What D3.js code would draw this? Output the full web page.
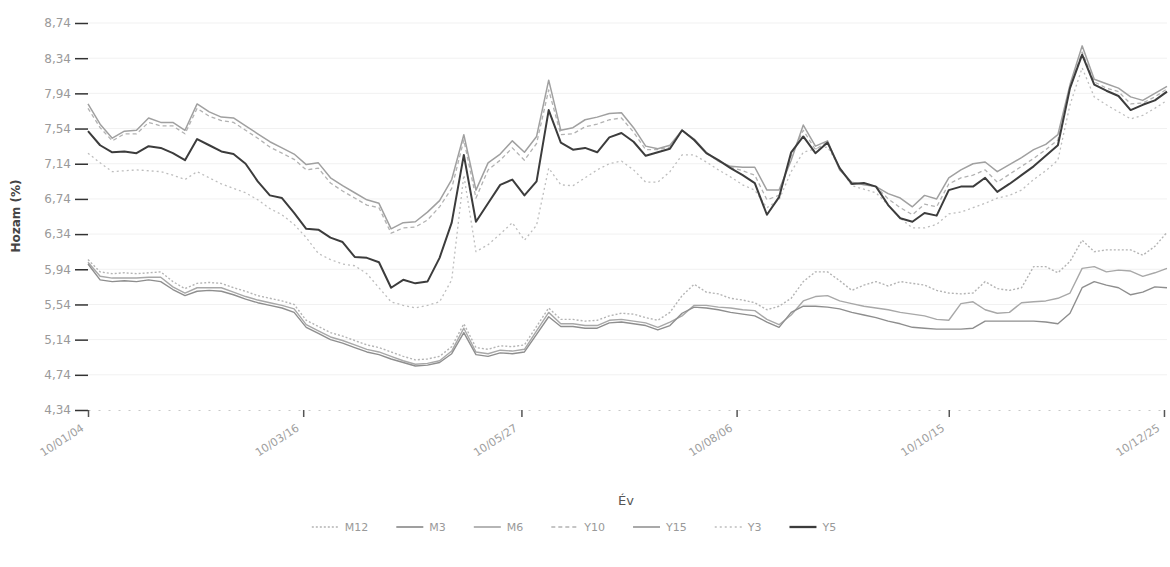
<!DOCTYPE html>
<html><head><meta charset="utf-8">
<script src="https://cdn.jsdelivr.net/npm/d3@7"></script>
<style>
body{margin:0;background:#fff}
text{font-family:"DejaVu Sans",sans-serif}
</style>
</head><body>
<svg id="chart" width="1170" height="567"></svg>
<script>
// ---- data ----
const startDate = "2010-01-04";
const stepDays = 4;   // one observation every 4 days
const M12 = [6.05,5.91,5.89,5.90,5.89,5.90,5.91,5.80,5.72,5.78,5.79,5.78,5.73,5.69,5.64,5.61,5.58,5.54,5.36,5.29,5.22,5.18,5.13,5.08,5.05,5.00,4.95,4.91,4.92,4.95,5.06,5.32,5.05,5.03,5.07,5.06,5.08,5.29,5.50,5.37,5.37,5.35,5.36,5.41,5.44,5.43,5.39,5.36,5.45,5.64,5.77,5.68,5.66,5.61,5.59,5.56,5.48,5.52,5.61,5.80,5.91,5.91,5.81,5.70,5.76,5.80,5.75,5.80,5.78,5.76,5.70,5.67,5.66,5.67,5.80,5.72,5.70,5.73,5.97,5.97,5.90,6.03,6.27,6.14,6.16,6.16,6.16,6.10,6.20,6.36];
const M3 = [6.00,5.82,5.80,5.81,5.80,5.82,5.80,5.71,5.64,5.69,5.70,5.69,5.65,5.60,5.56,5.53,5.50,5.45,5.28,5.21,5.14,5.10,5.05,5.00,4.97,4.92,4.88,4.84,4.85,4.88,4.98,5.22,4.97,4.95,4.99,4.98,5.00,5.20,5.40,5.29,5.29,5.27,5.27,5.33,5.34,5.32,5.30,5.25,5.30,5.44,5.51,5.50,5.48,5.45,5.43,5.41,5.34,5.28,5.45,5.52,5.52,5.51,5.49,5.45,5.42,5.39,5.35,5.32,5.28,5.27,5.26,5.26,5.26,5.27,5.35,5.35,5.35,5.35,5.35,5.34,5.32,5.44,5.73,5.80,5.76,5.73,5.65,5.68,5.74,5.73];
const M6 = [6.02,5.86,5.84,5.84,5.84,5.85,5.85,5.74,5.67,5.73,5.73,5.73,5.68,5.63,5.59,5.56,5.53,5.49,5.31,5.24,5.17,5.13,5.08,5.03,5.00,4.95,4.90,4.86,4.87,4.90,5.01,5.27,5.00,4.98,5.02,5.01,5.03,5.24,5.45,5.32,5.32,5.30,5.30,5.36,5.37,5.35,5.33,5.28,5.34,5.41,5.53,5.53,5.51,5.50,5.48,5.47,5.37,5.31,5.42,5.58,5.63,5.64,5.58,5.55,5.52,5.50,5.48,5.45,5.43,5.41,5.37,5.36,5.55,5.57,5.48,5.44,5.45,5.56,5.57,5.58,5.61,5.67,5.95,5.97,5.91,5.93,5.92,5.86,5.90,5.95];
const Y10 = [7.77,7.55,7.40,7.48,7.48,7.61,7.57,7.57,7.48,7.77,7.68,7.63,7.61,7.52,7.43,7.33,7.26,7.19,7.07,7.09,6.92,6.83,6.75,6.67,6.64,6.35,6.41,6.42,6.50,6.65,6.86,7.41,6.75,7.07,7.18,7.32,7.18,7.37,7.98,7.47,7.48,7.56,7.59,7.64,7.66,7.50,7.30,7.30,7.33,7.52,7.41,7.26,7.17,7.10,7.06,7.01,6.73,6.78,7.23,7.52,7.30,7.39,7.08,6.92,6.91,6.88,6.74,6.64,6.56,6.68,6.65,6.91,6.98,7.01,7.07,6.93,7.02,7.11,7.20,7.30,7.41,8.01,8.41,8.07,8.00,7.96,7.82,7.83,7.90,7.99];
const Y15 = [7.82,7.59,7.43,7.51,7.52,7.66,7.61,7.61,7.52,7.82,7.73,7.67,7.66,7.57,7.48,7.39,7.32,7.25,7.13,7.15,6.98,6.89,6.81,6.73,6.69,6.40,6.47,6.48,6.59,6.72,6.96,7.47,6.84,7.15,7.25,7.40,7.27,7.45,8.09,7.52,7.55,7.64,7.67,7.71,7.72,7.55,7.34,7.31,7.35,7.52,7.42,7.27,7.17,7.11,7.10,7.10,6.84,6.84,7.18,7.58,7.34,7.40,7.07,6.93,6.90,6.88,6.80,6.75,6.65,6.78,6.74,6.98,7.07,7.14,7.16,7.05,7.13,7.21,7.30,7.36,7.47,8.04,8.48,8.10,8.05,8.00,7.90,7.86,7.94,8.02];
const Y3 = [7.26,7.15,7.05,7.06,7.07,7.06,7.05,7.01,6.96,7.05,6.98,6.91,6.86,6.81,6.73,6.63,6.56,6.45,6.30,6.12,6.05,6.00,5.98,5.89,5.73,5.57,5.53,5.50,5.53,5.57,5.82,7.01,6.14,6.22,6.34,6.47,6.27,6.44,7.09,6.90,6.89,6.98,7.07,7.14,7.17,7.07,6.93,6.93,7.05,7.24,7.24,7.16,7.07,6.99,6.90,6.84,6.64,6.73,7.05,7.27,7.31,7.33,7.10,6.89,6.85,6.81,6.67,6.52,6.41,6.41,6.45,6.57,6.59,6.64,6.69,6.75,6.78,6.84,6.96,7.06,7.18,7.81,8.23,7.90,7.81,7.73,7.65,7.69,7.77,7.86];
const Y5 = [7.51,7.35,7.27,7.28,7.26,7.34,7.32,7.26,7.18,7.42,7.35,7.28,7.25,7.14,6.94,6.78,6.75,6.58,6.40,6.39,6.30,6.25,6.08,6.07,6.02,5.73,5.82,5.78,5.80,6.07,6.47,7.24,6.48,6.69,6.90,6.96,6.78,6.94,7.75,7.38,7.30,7.32,7.27,7.44,7.49,7.39,7.23,7.27,7.31,7.52,7.41,7.26,7.18,7.09,7.01,6.92,6.56,6.76,7.27,7.45,7.26,7.38,7.09,6.91,6.92,6.88,6.67,6.52,6.48,6.58,6.55,6.84,6.88,6.88,6.98,6.82,6.91,7.01,7.11,7.23,7.35,8.00,8.38,8.04,7.97,7.91,7.75,7.81,7.86,7.96];
const seriesNames = ["M12","M3","M6","Y10","Y15","Y3","Y5"];
const xTickDates = ["2010-01-04","2010-03-16","2010-05-27","2010-08-06","2010-10-15","2010-12-25"];
const xTickLabels = ["10/01/04","10/03/16","10/05/27","10/08/06","10/10/15","10/12/25"];
const yTicks = [4.34,4.74,5.14,5.54,5.94,6.34,6.74,7.14,7.54,7.94,8.34,8.74];
const yTitle = "Hozam (%)";
const xTitle = "Év";

(function draw() {
const parse = d3.timeParse("%Y-%m-%d");
const t0 = parse(startDate);
const dates = M12.map((_, i) => d3.timeDay.offset(t0, i * stepDays));
const seriesValues = {M12, M3, M6, Y10, Y15, Y3, Y5};

const styles = {
  M12: {color:"#b4b4b4", width:1.4, dash:"2,2"},
  M3:  {color:"#8e8e8e", width:1.4, dash:null},
  M6:  {color:"#a8a8a8", width:1.4, dash:null},
  Y10: {color:"#b2b2b2", width:1.3, dash:"4,3"},
  Y15: {color:"#a0a0a0", width:1.5, dash:null},
  Y3:  {color:"#bdbdbd", width:1.3, dash:"2,3"},
  Y5:  {color:"#3c3c3c", width:2.0, dash:null}
};

const svg = d3.select("#chart");
const mLeft = 88, mRight = 1167, mTop = 23, mBottom = 410;

const x = d3.scaleTime().domain([t0, dates[dates.length-1]]).range([mLeft, mRight]);
const y = d3.scaleLinear().domain([4.34, 8.74]).range([mBottom, mTop]);

svg.append("g").selectAll("line").data(yTicks.slice(1)).join("line")
  .attr("x1", mLeft).attr("x2", mRight)
  .attr("y1", d => y(d)).attr("y2", d => y(d))
  .attr("stroke", "#f1f1f1").attr("stroke-width", 1);

const yAxis = d3.axisLeft(y).tickValues(yTicks)
  .tickFormat(d => d3.format(".2f")(d).replace(".", ","))
  .tickSizeInner(13).tickSizeOuter(0).tickPadding(4);
const gy = svg.append("g").attr("transform", `translate(${mLeft},0)`).call(yAxis);
gy.select(".domain").remove();
gy.selectAll(".tick line").attr("stroke", "#333").attr("stroke-width", 1.5);
gy.selectAll(".tick text").attr("fill", "#9a9a9a").attr("font-size", 12);

const xt = xTickDates.map(parse);
const xAxis = d3.axisBottom(x).tickValues(xt)
  .tickFormat((d, i) => xTickLabels[i]).tickSizeInner(7).tickSizeOuter(0);
const gx = svg.append("g").attr("transform", `translate(0,${mBottom})`).call(xAxis);
gx.select(".domain").attr("stroke", "#c8c8c8").attr("stroke-dasharray", "2,8");
gx.selectAll(".tick line").attr("stroke", "#555").attr("stroke-width", 1.5);
gx.selectAll(".tick text")
  .attr("fill", "#a0a0a0").attr("font-size", 11)
  .attr("text-anchor", "end")
  .attr("x", -14).attr("y", 8).attr("dy", "0.6em")
  .attr("transform", "rotate(-33)");

const line = d3.line().x((d, i) => x(dates[i])).y(d => y(d)).curve(d3.curveLinear);
const order = ["M12","M6","M3","Y3","Y10","Y15","Y5"];
order.forEach(name => {
  const s = styles[name];
  svg.append("path").datum(seriesValues[name])
    .attr("fill", "none").attr("stroke", s.color).attr("stroke-width", s.width)
    .attr("stroke-linejoin", "round")
    .attr("stroke-dasharray", s.dash)
    .attr("d", line);
});

svg.append("text").attr("transform", "translate(20,216) rotate(-90)")
  .attr("text-anchor", "middle").attr("font-size", 12).attr("font-weight", "bold")
  .attr("fill", "#444").text(yTitle);
svg.append("text").attr("x", 626).attr("y", 505)
  .attr("text-anchor", "middle").attr("font-size", 13).attr("fill", "#555").text(xTitle);

const lg = svg.append("g");
let cx = 0;
seriesNames.forEach(name => {
  const s = styles[name];
  const g = lg.append("g").attr("transform", `translate(${cx},0)`);
  g.append("line").attr("x1", 0).attr("x2", 27).attr("y1", 0).attr("y2", 0)
    .attr("stroke", s.color).attr("stroke-width", s.width + 0.3).attr("stroke-dasharray", s.dash);
  const t = g.append("text").attr("x", 33).attr("y", 4).attr("font-size", 11)
    .attr("fill", "#999").text(name);
  cx += 33 + t.node().getComputedTextLength() + 28;
});
const lw = cx - 28;
lg.attr("transform", `translate(${574 - lw/2},527)`);
})();
</script>
</body></html>
